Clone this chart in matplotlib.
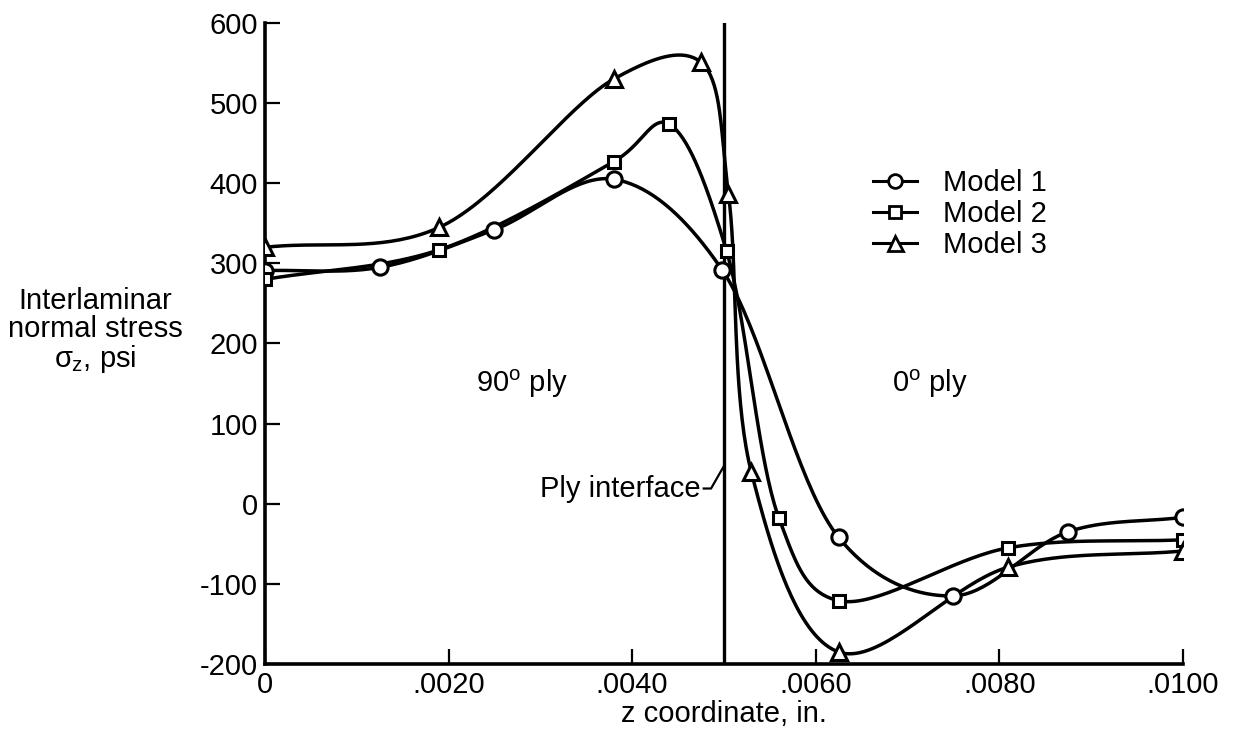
import matplotlib
matplotlib.use("Agg")
import matplotlib.pyplot as plt
import numpy as np

plt.rcParams['font.family'] = ['Liberation Sans', 'DejaVu Sans']
plt.rcParams['mathtext.fontset'] = 'custom'
plt.rcParams['mathtext.rm'] = 'Liberation Sans'
plt.rcParams['mathtext.it'] = 'Liberation Sans'
plt.rcParams['axes.unicode_minus'] = False

# z coordinate (in.) and interlaminar normal stress (psi)
z1 = [0, .00125, .0025, .0038, .00498, .00625, .0075, .00875, .0100]
s1 = [291, 295, 342, 405, 292, -42, -115, -35, -17]

z2 = [0, .0019, .0038, .0044, .00503, .0056, .00625, .0081, .0100]
s2 = [280, 317, 427, 474, 315, -18, -121, -55, -45]

z3 = [0, .0019, .0038, .00475, .00505, .0053, .00625, .0081, .0100]
s3 = [320, 345, 530, 551, 386, 39, -185, -79, -59]

xticks = [0, .002, .004, .006, .008, .010]
xlabels = ["0", ".0020", ".0040", ".0060", ".0080", ".0100"]
yticks = [-200, -100, 0, 100, 200, 300, 400, 500, 600]

FS = 21


def smooth(x, y, n=40, alpha=0.25):
    # catmull-rom through the points, done in screen-ish units
    sx, sy = 0.01 / 918.0, 1 / 0.8
    P = np.column_stack([np.asarray(x) / sx, np.asarray(y) / sy])
    P = np.vstack([2 * P[0] - P[1], P, 2 * P[-1] - P[-2]])
    out = []
    for i in range(1, len(P) - 2):
        p0, p1, p2, p3 = P[i - 1], P[i], P[i + 1], P[i + 2]
        t0 = 0.0
        t1 = t0 + np.linalg.norm(p1 - p0) ** alpha
        t2 = t1 + np.linalg.norm(p2 - p1) ** alpha
        t3 = t2 + np.linalg.norm(p3 - p2) ** alpha
        t = np.linspace(t1, t2, n)[:, None]
        a1 = (t1 - t) / (t1 - t0) * p0 + (t - t0) / (t1 - t0) * p1
        a2 = (t2 - t) / (t2 - t1) * p1 + (t - t1) / (t2 - t1) * p2
        a3 = (t3 - t) / (t3 - t2) * p2 + (t - t2) / (t3 - t2) * p3
        b1 = (t2 - t) / (t2 - t0) * a1 + (t - t0) / (t2 - t0) * a2
        b2 = (t3 - t) / (t3 - t1) * a2 + (t - t1) / (t3 - t1) * a3
        c = (t2 - t) / (t2 - t1) * b1 + (t - t1) / (t2 - t1) * b2
        out.append(c)
    c = np.vstack(out)
    return c[:, 0] * sx, c[:, 1] * sy


fig = plt.figure(figsize=(12.37, 7.39), dpi=100)
ax = fig.add_axes([0.2142, 0.1015, 0.742, 0.8674])

series = [(z1, s1, 'o', 11, 'Model 1'),
          (z2, s2, 's', 9, 'Model 2'),
          (z3, s3, '^', 12, 'Model 3')]
for z, s, m, ms, lab in series:
    cx, cy = smooth(z, s)
    ax.plot(cx, cy, color='black', lw=2.5, zorder=2)
    ax.plot(z, s, linestyle='none', marker=m, ms=ms, mfc='white',
            mec='black', mew=2.2, zorder=3)
    ax.plot([], [], color='black', lw=2.2, marker=m, ms=ms * 0.9,
            mfc='white', mec='black', mew=2, label=lab)

# ply interface
ax.axvline(0.005, color='black', lw=2.4, zorder=1)
ax.plot([.00478, .00486, .00500], [19, 19, 47], color='black', lw=1.6)
ax.text(.00475, 19, "Ply interface", fontsize=FS, ha='right', va='center')

ax.text(.0028, 150, "90$^\\mathrm{o}$ ply", fontsize=FS, ha='center', va='center')
ax.text(.00725, 150, "0$^\\mathrm{o}$ ply", fontsize=FS, ha='center', va='center')

ax.text(-0.00185, 215, "Interlaminar\nnormal stress\n$\\sigma_\\mathrm{z}$, psi",
        fontsize=FS, ha='center', va='center', linespacing=1.0)

ax.set_xlim(0, 0.0100)
ax.set_ylim(-200, 600)
ax.set_xticks(xticks)
ax.set_xticklabels(xlabels)
ax.set_yticks(yticks)
ax.set_xlabel("z coordinate, in.", fontsize=FS, labelpad=1)
ax.tick_params(direction='in', length=11, width=1.6, labelsize=FS, pad=5)

for sp in ['top', 'right']:
    ax.spines[sp].set_visible(False)
for sp in ['left', 'bottom']:
    ax.spines[sp].set_linewidth(2.6)

ax.legend(loc='upper left', bbox_to_anchor=(0.65, 0.79), frameon=False,
          fontsize=FS, handlelength=1.5, handletextpad=0.9, labelspacing=0.1,
          borderaxespad=0)

plt.savefig('out.png')
